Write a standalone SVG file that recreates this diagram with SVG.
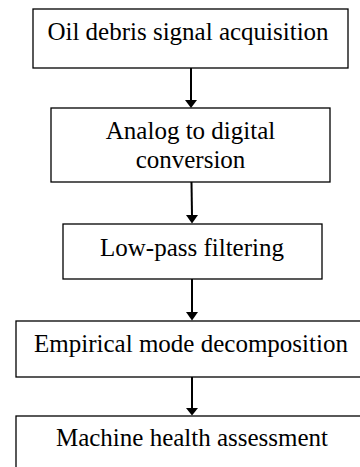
<svg xmlns="http://www.w3.org/2000/svg" width="360" height="467" viewBox="0 0 360 467">
<style>
.box{fill:#fff;stroke:#000;stroke-width:1.3}
.t{font-family:"Liberation Serif","Times New Roman",serif;font-size:25px;fill:#000;text-anchor:middle}
.c{stroke:#000;stroke-width:2;fill:none}
</style>
<rect width="360" height="467" fill="#fff"/>
<g id="n1"><rect class="box" x="33" y="9" width="315" height="59"/><text class="t" x="188" y="40">Oil debris signal acquisition</text></g>
<g id="n2"><rect class="box" x="51" y="108" width="279" height="74"/><text class="t" x="190.5" y="139">Analog to digital</text><text class="t" x="190.5" y="168">conversion</text></g>
<g id="n3"><rect class="box" x="63" y="224" width="259" height="55"/><text class="t" x="192" y="256">Low-pass filtering</text></g>
<g id="n4"><rect class="box" x="16" y="321" width="360" height="56"/><text class="t" x="191" y="352">Empirical mode decomposition</text></g>
<g id="n5"><rect class="box" x="16" y="416" width="360" height="80"/><text class="t" x="192" y="446">Machine health assessment</text></g>
<g id="connectors">
<line class="c" x1="191" y1="68" x2="191" y2="101"/><path d="M185,100 L197,100 L191,108 Z"/>
<line class="c" x1="191.5" y1="182" x2="192" y2="216"/><path d="M186,215 L198,215 L192,223.5 Z"/>
<line class="c" x1="192" y1="279" x2="192" y2="313"/><path d="M186,312 L198,312 L192,320.5 Z"/>
<line class="c" x1="192" y1="377" x2="192" y2="409"/><path d="M186,408 L198,408 L192,415.5 Z"/>
</g>
</svg>
